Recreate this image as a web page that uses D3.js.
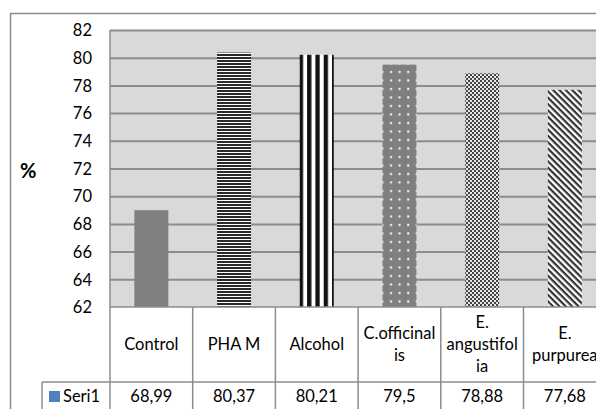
<!DOCTYPE html>
<html lang="en">
<head>
  <meta charset="UTF-8">
  <script src="https://cdn.jsdelivr.net/npm/d3@7"></script>
  <title>Seri1</title>
  <style>
    body { margin: 0; background: #fff; }
    svg { display: block; }
    text { font-family: Lato, 'Open Sans', sans-serif; font-size: 16.5px; fill: #000; }
    .grid line { stroke: #8c8c8c; stroke-width: 2; }
    .grid .domain { display: none; }
    .y-axis .domain, .y-axis line { display: none; }
    .tbl { stroke: #8c8c8c; stroke-width: 1.5; fill: none; }
  </style>
</head>
<body>
<script>
  const categories = ['Control', 'PHA M', 'Alcohol', 'C.officinalis', 'E. angustifolia', 'E. purpurea'];
  const catLines = [['Control'], ['PHA M'], ['Alcohol'], ['C.officinal', 'is'], ['E.', 'angustifol', 'ia'], ['E.', 'purpurea']];
  const values = [68.99, 80.37, 80.21, 79.5, 78.88, 77.68];
  const valueLabels = ['68,99', '80,37', '80,21', '79,5', '78,88', '77,68'];
  const yTicks = [62, 64, 66, 68, 70, 72, 74, 76, 78, 80, 82];
  const seriesName = 'Seri1';
  const fills = ['#808080', 'url(#hstripe)', 'url(#vstripe)', 'url(#dots)', 'url(#checker)', 'url(#diag)'];

  const width = 596, height = 409;
  const plotL = 110, plotT = 30, plotB = 307, bandW = 82.7;
  const rowB = 382, legendL = 42;

  const svg = d3.select('body').append('svg').attr('width', width).attr('height', height);

  // bar fill patterns
  const defs = svg.append('defs');
  const hs = defs.append('pattern').attr('id', 'hstripe').attr('patternUnits', 'userSpaceOnUse').attr('width', 4).attr('height', 3);
  hs.append('rect').attr('width', 4).attr('height', 3).attr('fill', '#fff');
  hs.append('rect').attr('width', 4).attr('height', 2).attr('fill', '#2a2a2a');

  const vs = defs.append('pattern').attr('id', 'vstripe').attr('patternUnits', 'userSpaceOnUse').attr('width', 8.3).attr('height', 4);
  vs.append('rect').attr('width', 8.3).attr('height', 4).attr('fill', '#fff');
  vs.append('rect').attr('width', 4.3).attr('height', 4).attr('fill', '#111');

  const dt = defs.append('pattern').attr('id', 'dots').attr('patternUnits', 'userSpaceOnUse').attr('width', 8.6).attr('height', 8.5);
  dt.append('rect').attr('width', 8.6).attr('height', 8.5).attr('fill', '#7f7f7f');
  dt.append('rect').attr('x', 3).attr('y', 3).attr('width', 2).attr('height', 2).attr('fill', '#fff');

  const ck = defs.append('pattern').attr('id', 'checker').attr('patternUnits', 'userSpaceOnUse').attr('width', 4).attr('height', 4);
  ck.append('rect').attr('width', 4).attr('height', 4).attr('fill', '#e6e6e6');
  ck.append('rect').attr('width', 2).attr('height', 2).attr('fill', '#444');
  ck.append('rect').attr('x', 2).attr('y', 2).attr('width', 2).attr('height', 2).attr('fill', '#444');

  const dg = defs.append('pattern').attr('id', 'diag').attr('patternUnits', 'userSpaceOnUse').attr('width', 4.5).attr('height', 4.5)
    .attr('patternTransform', 'rotate(45)');
  dg.append('rect').attr('width', 4.5).attr('height', 4.5).attr('fill', '#fff');
  dg.append('rect').attr('width', 4.5).attr('height', 2.2).attr('fill', '#333');

  // outer chart border
  svg.append('rect').attr('x', 10.5).attr('y', 13.5).attr('width', 640).attr('height', 440)
    .attr('fill', 'none').attr('stroke', '#8c8c8c').attr('stroke-width', 1.5);

  const x = d3.scaleBand().domain(categories).range([plotL, plotL + bandW * categories.length]);
  const y = d3.scaleLinear().domain([62, 82]).range([plotB, plotT]);

  svg.append('rect').attr('x', plotL).attr('y', plotT).attr('width', width - plotL + 20).attr('height', plotB - plotT)
    .attr('fill', '#d9d9d9');

  svg.append('g').attr('class', 'grid').attr('transform', `translate(${plotL},0)`)
    .call(d3.axisRight(y).tickValues(yTicks.slice(1)).tickSize(width).tickFormat(''));

  svg.append('g').attr('class', 'y-axis').attr('transform', `translate(${plotL},0)`)
    .call(d3.axisLeft(y).tickValues(yTicks).tickSize(0).tickPadding(18).tickFormat(d => d))
    .selectAll('text').attr('dy', '0.35em');

  svg.append('text').attr('x', 20).attr('y', 178).style('font-weight', 'bold').style('font-size', '20px').text('%');

  const barW = 34;
  svg.selectAll('.bar').data(values).enter().append('rect').attr('class', 'bar')
    .attr('x', (d, i) => x(categories[i]) + x.bandwidth() / 2 - barW / 2)
    .attr('y', d => y(d))
    .attr('width', barW)
    .attr('height', d => y(62) - y(d))
    .attr('fill', (d, i) => fills[i]);

  // data table
  const tbl = svg.append('g');
  tbl.append('line').attr('class', 'tbl').attr('x1', plotL).attr('x2', plotL).attr('y1', plotT).attr('y2', height);
  tbl.append('line').attr('class', 'tbl').attr('x1', legendL).attr('x2', width + 20).attr('y1', rowB).attr('y2', rowB);
  tbl.append('line').attr('class', 'tbl').attr('x1', legendL).attr('x2', legendL).attr('y1', rowB).attr('y2', height);
  tbl.selectAll('.sep').data(categories).enter().append('line').attr('class', 'tbl')
    .attr('x1', d => x(d) + x.bandwidth()).attr('x2', d => x(d) + x.bandwidth())
    .attr('y1', plotB).attr('y2', height);
  tbl.append('line').attr('class', 'tbl').attr('x1', plotL).attr('x2', width + 20).attr('y1', plotB).attr('y2', plotB);

  const lineH = 22, headMid = (plotB + rowB) / 2;
  categories.forEach((c, i) => {
    const lines = catLines[i];
    const t = tbl.append('text').attr('text-anchor', 'middle');
    lines.forEach((s, j) => {
      t.append('tspan').attr('x', x(c) + x.bandwidth() / 2)
        .attr('y', headMid + (j - (lines.length - 1) / 2) * lineH).attr('dy', '0.35em').text(s);
    });
    tbl.append('text').attr('text-anchor', 'middle').attr('x', x(c) + x.bandwidth() / 2)
      .attr('y', 396).attr('dy', '0.35em').text(valueLabels[i]);
  });

  tbl.append('rect').attr('x', 49).attr('y', 391).attr('width', 11).attr('height', 11).attr('fill', '#4f81bd');
  tbl.append('text').attr('x', 63).attr('y', 396).attr('dy', '0.35em').text(seriesName);
</script>
</body>
</html>
